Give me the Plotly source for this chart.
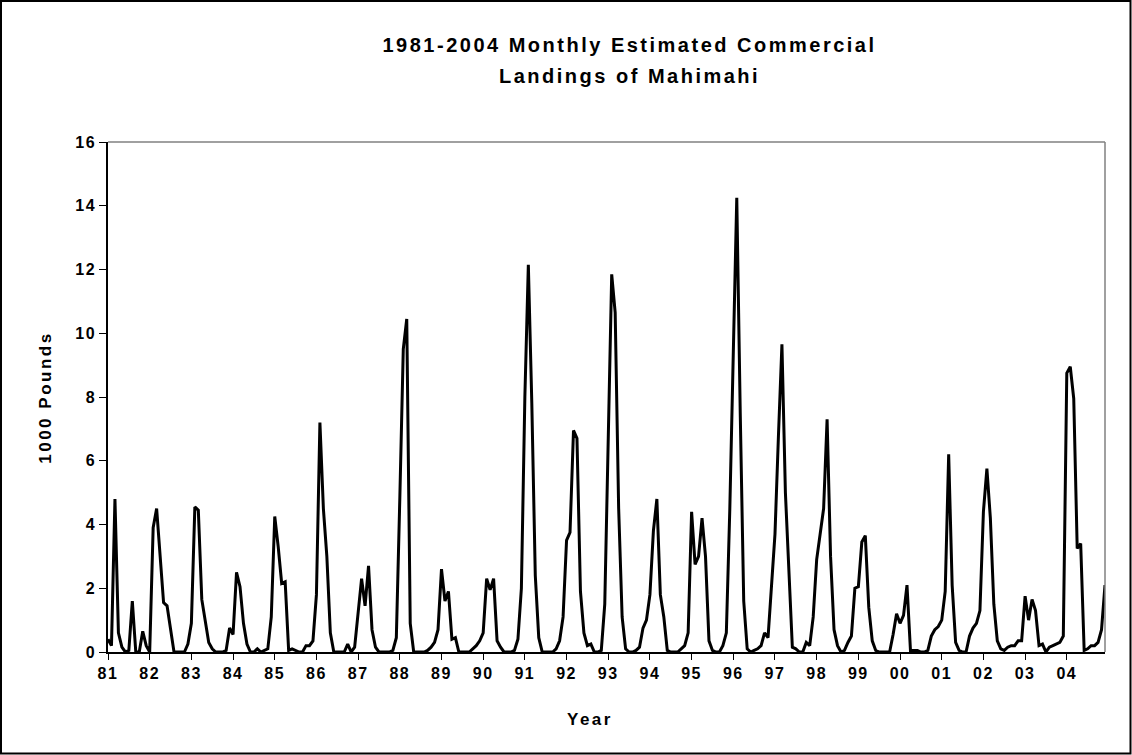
import plotly.graph_objects as go

# Year tick labels
years = ["81", "82", "83", "84", "85", "86", "87", "88", "89", "90", "91", "92",
         "93", "94", "95", "96", "97", "98", "99", "00", "01", "02", "03", "04"]

# Monthly landings (1000 pounds), Jan..Dec for each year
y1981 = [0.4, 0.2, 4.8, 0.6, 0.15, 0.0, 0.05, 1.6, 0.0, 0.0, 0.65, 0.2]
y1982 = [0.0, 3.9, 4.5, 3.0, 1.55, 1.45, 0.7, 0.0, 0.0, 0.0, 0.0, 0.25]
y1983 = [0.9, 4.55, 4.45, 1.65, 0.9, 0.3, 0.1, 0.0, 0.0, 0.0, 0.05, 0.75]
y1984 = [0.55, 2.5, 2.05, 0.9, 0.25, 0.0, 0.0, 0.1, 0.0, 0.05, 0.1, 1.1]
y1985 = [4.25, 3.3, 2.15, 2.2, 0.05, 0.1, 0.05, 0.0, 0.0, 0.2, 0.2, 0.35]
y1986 = [1.8, 7.2, 4.5, 3.0, 0.6, 0.0, 0.0, 0.0, 0.0, 0.25, 0.0, 0.15]
y1987 = [1.2, 2.3, 1.45, 2.7, 0.7, 0.15, 0.0, 0.0, 0.0, 0.0, 0.05, 0.45]
y1988 = [4.8, 9.5, 10.45, 0.9, 0.0, 0.0, 0.0, 0.0, 0.05, 0.15, 0.3, 0.7]
y1989 = [2.6, 1.6, 1.9, 0.4, 0.45, 0.0, 0.0, 0.0, 0.0, 0.1, 0.2, 0.35]
y1990 = [0.6, 2.3, 1.95, 2.3, 0.35, 0.15, 0.0, 0.0, 0.0, 0.05, 0.4, 2.0]
y1991 = [8.0, 12.15, 7.8, 2.4, 0.45, 0.0, 0.0, 0.0, 0.0, 0.1, 0.35, 1.1]
y1992 = [3.5, 3.75, 6.95, 6.7, 1.9, 0.6, 0.2, 0.25, 0.0, 0.0, 0.05, 1.5]
y1993 = [7.2, 11.85, 10.65, 4.5, 1.1, 0.1, 0.0, 0.0, 0.05, 0.15, 0.75, 1.0]
y1994 = [1.8, 3.8, 4.8, 1.8, 1.1, 0.05, 0.0, 0.0, 0.0, 0.1, 0.2, 0.6]
y1995 = [4.4, 2.75, 3.0, 4.2, 3.0, 0.35, 0.05, 0.0, 0.0, 0.2, 0.6, 4.5]
y1996 = [9.0, 14.25, 7.5, 1.6, 0.1, 0.0, 0.05, 0.1, 0.2, 0.6, 0.45, 2.0]
y1997 = [3.7, 6.8, 9.65, 5.0, 2.5, 0.15, 0.1, 0.0, 0.0, 0.3, 0.2, 1.1]
y1998 = [2.9, 3.7, 4.5, 7.3, 3.0, 0.7, 0.2, 0.0, 0.05, 0.3, 0.5, 2.0]
y1999 = [2.05, 3.45, 3.65, 1.4, 0.35, 0.05, 0.0, 0.0, 0.0, 0.0, 0.55, 1.2]
y2000 = [0.9, 1.15, 2.1, 0.05, 0.05, 0.05, 0.0, 0.0, 0.05, 0.5, 0.7, 0.8]
y2001 = [1.0, 1.9, 6.2, 2.1, 0.3, 0.05, 0.0, 0.0, 0.5, 0.75, 0.9, 1.3]
y2002 = [4.4, 5.75, 4.2, 1.5, 0.35, 0.1, 0.05, 0.15, 0.2, 0.2, 0.35, 0.35]
y2003 = [1.75, 1.0, 1.65, 1.3, 0.2, 0.25, 0.0, 0.15, 0.2, 0.25, 0.3, 0.5]
y2004 = [8.75, 8.95, 7.95, 3.25, 3.4, 0.05, 0.1, 0.2, 0.2, 0.3, 0.7, 2.1]

all_years = [y1981, y1982, y1983, y1984, y1985, y1986, y1987, y1988, y1989, y1990,
             y1991, y1992, y1993, y1994, y1995, y1996, y1997, y1998, y1999, y2000,
             y2001, y2002, y2003, y2004]
values = [v for yr in all_years for v in yr]
months = list(range(len(values)))

W, H = 1132, 755
L, R, T, B = 108, 1105, 142, 652
pw, ph = R - L, B - T

def px(x):
    return (x - L) / pw

def py(y):
    return (B - y) / ph

FONT = "Liberation Sans, Arial, sans-serif"

fig = go.Figure()
fig.add_trace(go.Scatter(x=months, y=values, mode="lines",
                         line=dict(color="black", width=3),
                         showlegend=False, hoverinfo="skip"))

tickvals = [12 * k for k in range(len(years))]

fig.update_layout(
    width=W, height=H,
    margin=dict(l=L, r=W - R, t=T, b=H - B),
    paper_bgcolor="white", plot_bgcolor="white",
    xaxis=dict(range=[0, len(values) - 1], tickmode="array",
               tickvals=tickvals, ticktext=years,
               ticks="outside", ticklen=6, tickwidth=1, tickcolor="black",
               showline=True, linecolor="black", linewidth=1.5,
               showgrid=False, zeroline=False,
               tickfont=dict(family=FONT, size=16, color="black", weight="bold")),
    yaxis=dict(range=[0, 16], dtick=2, tick0=0,
               ticks="outside", ticklen=7, tickwidth=1, tickcolor="black",
               showline=True, linecolor="black", linewidth=1.5,
               showgrid=False, zeroline=False,
               tickfont=dict(family=FONT, size=16, color="black", weight="bold")),
    xaxis2=dict(overlaying="x", anchor="y", range=[0, len(values) - 1],
                tickmode="array", tickvals=tickvals,
                ticks="inside", ticklen=5, tickwidth=1, tickcolor="black",
                showticklabels=False, showline=False, showgrid=False, zeroline=False),
    yaxis2=dict(overlaying="y", anchor="x", side="left", range=[0, 16], dtick=2,
                ticks="inside", ticklen=6, tickwidth=1, tickcolor="black",
                showticklabels=False, showline=False, showgrid=False, zeroline=False),
    shapes=[
        dict(type="line", xref="paper", yref="paper", x0=0, x1=1, y0=1, y1=1,
             line=dict(color="#808080", width=1.5)),
        dict(type="line", xref="paper", yref="paper", x0=1, x1=1, y0=0, y1=1,
             line=dict(color="#808080", width=1.5)),
        dict(type="rect", xref="paper", yref="paper",
             x0=px(1), x1=px(W - 1.5), y0=py(H - 1.5), y1=py(1),
             line=dict(color="black", width=2)),
    ],
    annotations=[
        dict(text="1981-2004 Monthly Estimated Commercial",
             xref="paper", yref="paper", x=px(629), y=py(45),
             xanchor="center", yanchor="middle", showarrow=False,
             font=dict(family=FONT, size=20, color="black", weight="bold")),
        dict(text="Landings of Mahimahi",
             xref="paper", yref="paper", x=px(629), y=py(76),
             xanchor="center", yanchor="middle", showarrow=False,
             font=dict(family=FONT, size=20, color="black", weight="bold")),
        dict(text="1000 Pounds", xref="paper", yref="paper", x=px(45), y=py(397),
             xanchor="center", yanchor="middle", textangle=-90, showarrow=False,
             font=dict(family=FONT, size=17, color="black", weight="bold")),
        dict(text="Year", xref="paper", yref="paper", x=px(590), y=py(719),
             xanchor="center", yanchor="middle", showarrow=False,
             font=dict(family=FONT, size=17, color="black", weight="bold")),
    ],
)

post = """
document.body.style.margin = '0';
document.body.style.padding = '0';
var st = document.createElement('style');
st.textContent = '.xtick text, .ytick text { letter-spacing: 1.5px; } ' +
  '.annotation-text { letter-spacing: 2.5px; }';
document.head.appendChild(st);
"""

fig.write_html("out.html", post_script=post, config={"displayModeBar": False})
